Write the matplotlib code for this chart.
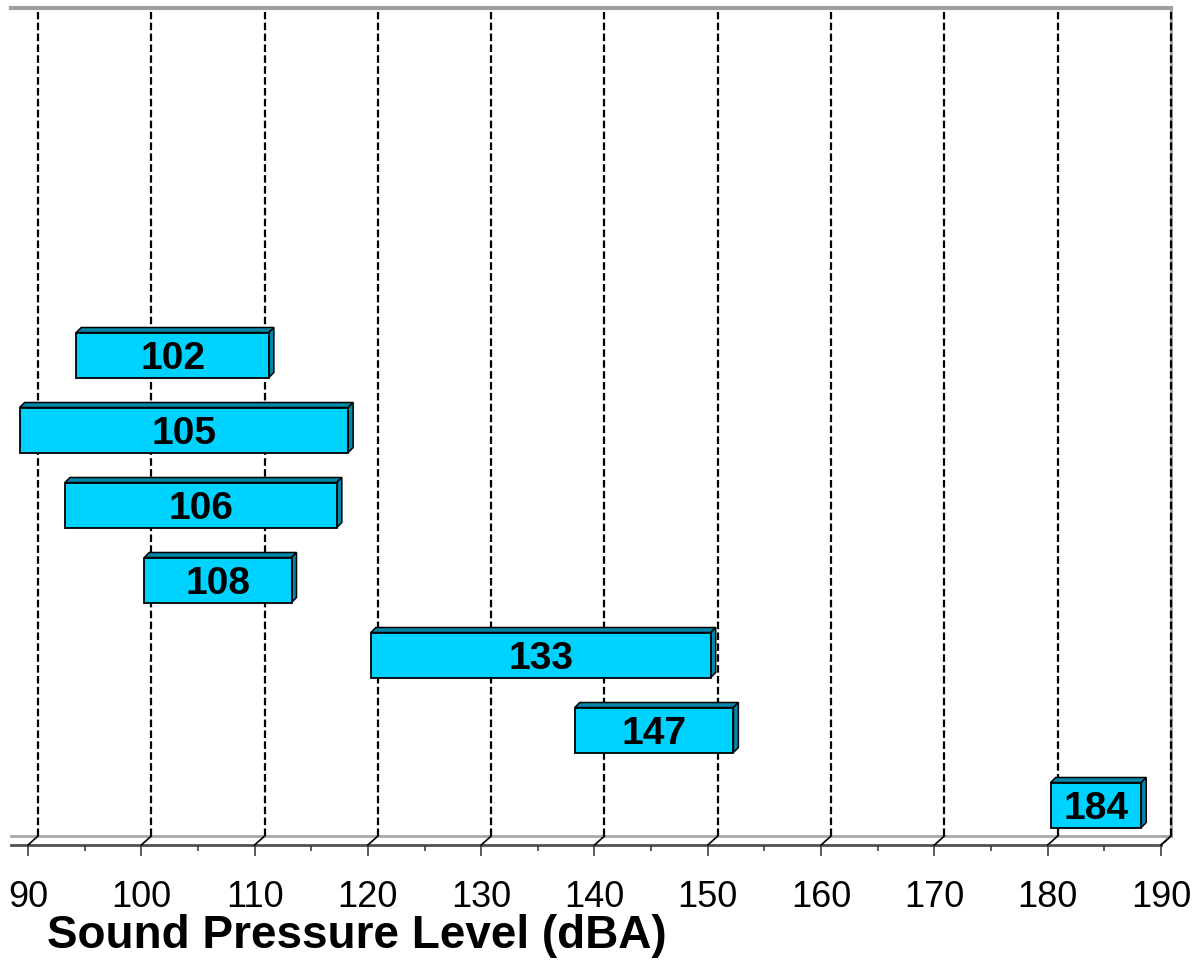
import matplotlib
matplotlib.use("Agg")
import matplotlib.pyplot as plt
from matplotlib.patches import Polygon, Rectangle

plt.rcParams['font.family'] = ['Liberation Sans', 'DejaVu Sans']

# floating bars: start / end of each range in dBA, label printed on the bar
labels = ['184', '147', '133', '108', '106', '105', '102']
starts = [180, 138, 120, 100, 93, 89, 94]
ends = [188, 152, 150, 113, 117, 118, 111]
n_rows = 11  # category slots on y, only the lowest 7 hold bars
xticks = list(range(90, 200, 10))
minor_ticks = list(range(95, 190, 10))

fig = plt.figure(figsize=(12, 9.6), dpi=100)
ax = fig.add_axes([11/1200, 115/960, 1161.3/1200, 837/960])
x0, x1 = 88.5, 191.0
y0, y1 = -0.533, 10.627
ax.set_xlim(x0, x1)
ax.set_ylim(y0, y1)

# fake 3d offsets (data units)
wdx, wdy = 0.883, 0.12     # back wall
bdx, bdy = 0.44, 0.067     # bar depth
sh = 0.26                  # bar front face sits a bit behind the front axis
h = 0.3

xmax = xticks[-1]
# walls / floor
ax.plot([x0, xmax + wdx], [y0 + wdy, y0 + wdy], color='#a8a8a8', lw=2, clip_on=False, zorder=1)
ax.plot([x0, xmax], [y0, y0], color='#505050', lw=2, clip_on=False, zorder=1)
ax.plot([xmax, xmax + wdx], [y0, y0 + wdy], color='#808080', lw=1.5, clip_on=False, zorder=1)
ax.plot([x0, xmax + wdx], [y1, y1], color='#a0a0a0', lw=3, clip_on=False, zorder=1)
ax.plot([xmax + wdx, xmax + wdx], [y0 + wdy, y1], color='#a0a0a0', lw=2, clip_on=False, zorder=1)

# dashed grid on back wall + little diagonals on the floor
for v in xticks:
    ax.plot([v + wdx, v + wdx], [y0 + wdy, y1 - 0.05], color='black', lw=1.6,
            linestyle=(0, (3.4, 1.5)), clip_on=False, zorder=2)
    ax.plot([v, v + wdx], [y0, y0 + wdy], color='black', lw=1.2, clip_on=False, zorder=2)

front = '#00d2ff'
side = '#0088aa'
for i in range(len(labels)):
    s = starts[i] + sh
    e = ends[i] + sh
    top = Polygon([(s, i + h), (e, i + h), (e + bdx, i + h + bdy), (s + bdx, i + h + bdy)],
                  closed=True, facecolor=side, edgecolor='black', lw=1.1, zorder=3)
    right = Polygon([(e, i - h), (e + bdx, i - h + bdy), (e + bdx, i + h + bdy), (e, i + h)],
                    closed=True, facecolor=side, edgecolor='black', lw=1.1, zorder=3)
    face = Rectangle((s, i - h), e - s, 2 * h, facecolor=front, edgecolor='black', lw=1.3, zorder=4)
    ax.add_patch(top)
    ax.add_patch(right)
    ax.add_patch(face)
    ax.text((s + e) / 2, i, labels[i], ha='center', va='center_baseline', fontsize=28,
            fontweight='bold', zorder=5)

for sp in ax.spines.values():
    sp.set_visible(False)
ax.set_yticks([])
ax.set_xticks(xticks)
ax.set_xticks(minor_ticks, minor=True)
ax.tick_params(axis='x', which='major', length=8, width=1.2, color='#404040', labelsize=26, pad=17)
ax.tick_params(axis='x', which='minor', length=4, width=1.2, color='#404040')

fig.text(47/1200, 12/960, 'Sound Pressure Level (dBA)', fontsize=33, fontweight='bold',
         va='baseline', ha='left')

fig.savefig('out.png', dpi=100)
